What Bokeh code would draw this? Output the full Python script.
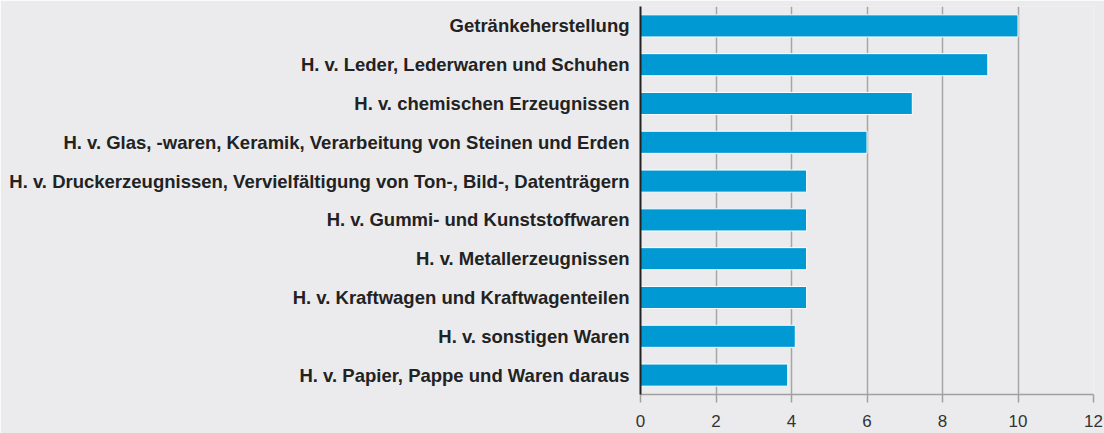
from bokeh.plotting import figure
from bokeh.models import FactorRange, Range1d, FixedTicker, ColumnDataSource
from bokeh.embed import file_html
from bokeh.resources import INLINE

categories = [
    "Getränkeherstellung",
    "H. v. Leder, Lederwaren und Schuhen",
    "H. v. chemischen Erzeugnissen",
    "H. v. Glas, -waren, Keramik, Verarbeitung von Steinen und Erden",
    "H. v. Druckerzeugnissen, Vervielfältigung von Ton-, Bild-, Datenträgern",
    "H. v. Gummi- und Kunststoffwaren",
    "H. v. Metallerzeugnissen",
    "H. v. Kraftwagen und Kraftwagenteilen",
    "H. v. sonstigen Waren",
    "H. v. Papier, Pappe und Waren daraus",
]
values = [10.0, 9.2, 7.2, 6.0, 4.4, 4.4, 4.4, 4.4, 4.1, 3.9]
x_ticks = [0, 2, 4, 6, 8, 10, 12]

BG = "#ebebed"
source = ColumnDataSource(dict(cat=categories, val=values))

p = figure(
    width=1104, height=433,
    y_range=FactorRange(factors=list(reversed(categories)), range_padding=0),
    x_range=Range1d(0, 12),
    output_backend="svg", toolbar_location=None,
    background_fill_color=BG, border_fill_color=BG,
    min_border_left=640, min_border_right=11, min_border_top=6, min_border_bottom=39,
)
p.outline_line_color = None

p.hbar(y="cat", right="val", left=0, height=0.57, source=source,
       fill_color="#0099d4", line_color="white", line_width=1)

# x axis
p.xaxis.ticker = FixedTicker(ticks=x_ticks)
p.xaxis.axis_line_color = "#a0a0a0"
p.xaxis.axis_line_width = 1.5
p.xaxis.major_tick_line_color = "#a0a0a0"
p.xaxis.major_tick_line_width = 1.5
p.xaxis.major_tick_out = 8
p.xaxis.major_tick_in = 0
p.xaxis.minor_tick_line_color = None
p.xaxis.major_label_text_font = "Liberation Sans"
p.xaxis.major_label_text_font_size = "17px"
p.xaxis.major_label_text_color = "#333333"
p.xaxis.major_label_standoff = 12

# y axis
p.yaxis.axis_line_color = "#222222"
p.yaxis.axis_line_width = 2
p.yaxis.major_tick_line_color = None
p.yaxis.major_tick_out = 0
p.yaxis.major_tick_in = 0
p.yaxis.minor_tick_line_color = None
p.yaxis.major_label_text_font = "Liberation Sans"
p.yaxis.major_label_text_font_style = "bold"
p.yaxis.major_label_text_font_size = "18.5px"
p.yaxis.major_label_text_color = "#222222"
p.yaxis.major_label_standoff = 11

p.xgrid.grid_line_color = "#a6a6a6"
p.xgrid.grid_line_width = 1.5
p.xgrid.ticker = FixedTicker(ticks=x_ticks)
p.ygrid.grid_line_color = None

open("out.html", "w").write(file_html(p, INLINE))
